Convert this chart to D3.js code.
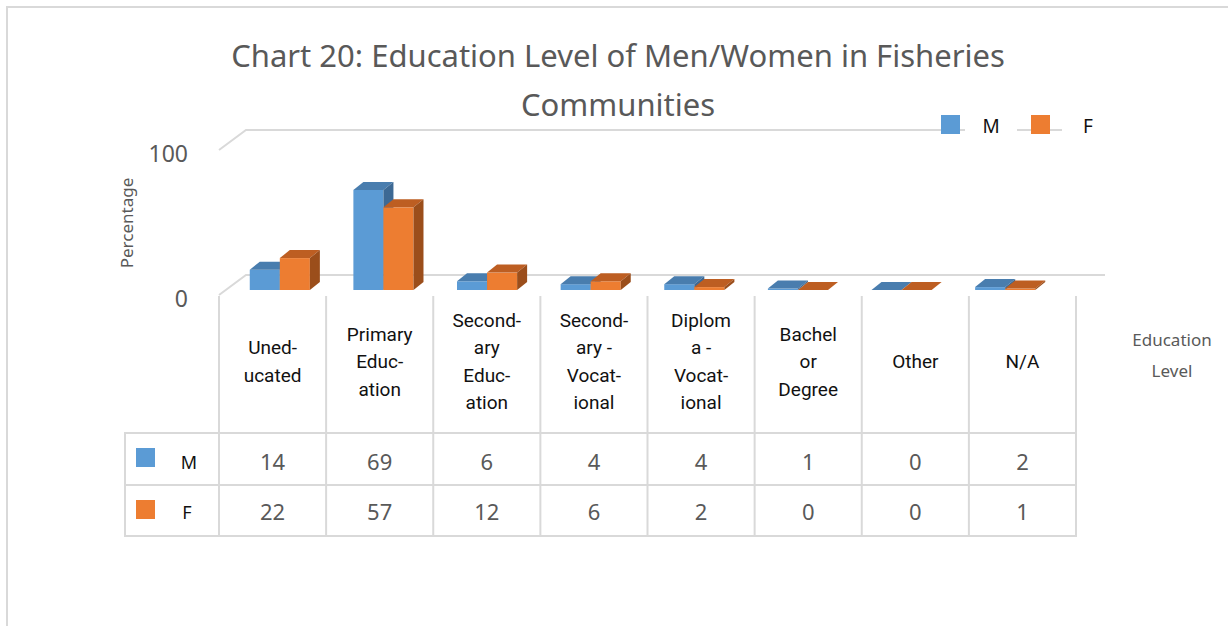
<!DOCTYPE html>
<html>
<head>
<meta charset="utf-8">
<script src="https://cdn.jsdelivr.net/npm/d3@7"></script>
<style>
  body { margin: 0; background: #fff; }
  svg { display: block; }
</style>
</head>
<body>
<div id="chart"></div>
<script>
// data
const categories = ["Uneducated", "Primary Education", "Secondary Education", "Secondary - Vocational",
                    "Diploma - Vocational", "Bachelor Degree", "Other", "N/A"];
const categoryLines = [
  ["Uned-", "ucated"],
  ["Primary", "Educ-", "ation"],
  ["Second-", "ary", "Educ-", "ation"],
  ["Second-", "ary -", "Vocat-", "ional"],
  ["Diplom", "a -", "Vocat-", "ional"],
  ["Bachel", "or", "Degree"],
  ["Other"],
  ["N/A"]
];
const seriesNames = ["M", "F"];
const valuesM = [14, 69, 6, 4, 4, 1, 0, 2];
const valuesF = [22, 57, 12, 6, 2, 0, 0, 1];
const yTicks = [0, 100];

const W = 1228, H = 626;
const GRID = "#D9D9D9";
const TEXT = "#595959";
const FONT = "'Noto Sans', 'Open Sans', sans-serif";
const COLORS = {
  M: { front: "#5B9BD5", top: "#497DAE", side: "#3D6994" },
  F: { front: "#ED7D31", top: "#BD5E22", side: "#9B4E1B" }
};
const DEPTH = { dx: 27, dy: -20 };   // wall depth
const BAR_D = { dx: 10, dy: -8 };    // bar depth

const svg = d3.select("#chart").append("svg")
  .attr("width", W).attr("height", H);

// outer border
svg.append("path")
  .attr("d", `M7,${H} V7 H${W}`)
  .attr("fill", "none").attr("stroke", GRID).attr("stroke-width", 2);

// title
svg.append("text")
  .attr("x", 618).attr("text-anchor", "middle")
  .style("font-family", FONT).style("font-size", "31px").style("fill", TEXT)
  .selectAll("tspan")
  .data(["Chart 20: Education Level of Men/Women in Fisheries", "Communities"])
  .join("tspan")
  .attr("x", 618)
  .attr("y", (d, i) => 67 + i * 49)
  .text(d => d);

// scales
const y = d3.scaleLinear().domain([0, 100]).range([295, 150]);
const yBar = d3.scaleLinear().domain([0, 100]).range([290, 145]);
const xTable = d3.scaleBand().domain(categories).range([219, 1076]);
const xBar = d3.scaleBand().domain(categories).range([228, 1057]).paddingInner(0.42).paddingOuter(0.21);
const xSeries = d3.scaleBand().domain(seriesNames).range([0, xBar.bandwidth()]);

// back wall lines + diagonals
const wall = svg.append("g");
yTicks.forEach(t => {
  wall.append("path")
    .attr("d", `M219,${y(t)} L${219 + DEPTH.dx},${y(t) + DEPTH.dy} H1105`)
    .attr("fill", "none").attr("stroke", GRID).attr("stroke-width", 2);
});

// y axis labels
const yAxis = svg.append("g")
  .attr("transform", "translate(219,4)")
  .call(d3.axisLeft(y).tickValues(yTicks).tickSize(0).tickPadding(31));
yAxis.select(".domain").remove();
yAxis.selectAll("text")
  .style("font-family", FONT).style("font-size", "23px").style("fill", TEXT);

svg.append("text")
  .attr("transform", "translate(133,223) rotate(-90)")
  .attr("text-anchor", "middle")
  .style("font-family", FONT).style("font-size", "17px").style("fill", TEXT)
  .text("Percentage");

// bars
const bars = svg.append("g");
const seriesValues = { M: valuesM, F: valuesF };
categories.forEach((cat, ci) => {
  seriesNames.forEach(s => {
    const v = seriesValues[s][ci];
    const x0 = xBar(cat) + xSeries(s);
    const w = xSeries.bandwidth();
    const yt = yBar(v), yb = yBar(0);
    const c = COLORS[s];
    const g = bars.append("g");
    g.append("rect")
      .attr("x", x0).attr("y", yt)
      .attr("width", w).attr("height", yb - yt)
      .attr("fill", c.front);
    g.append("polygon")
      .attr("points", [[x0, yt], [x0 + BAR_D.dx, yt + BAR_D.dy], [x0 + w + BAR_D.dx, yt + BAR_D.dy], [x0 + w, yt]].join(" "))
      .attr("fill", c.top);
    g.append("polygon")
      .attr("points", [[x0 + w, yt], [x0 + w + BAR_D.dx, yt + BAR_D.dy], [x0 + w + BAR_D.dx, yb + BAR_D.dy], [x0 + w, yb]].join(" "))
      .attr("fill", c.side);
  });
});

// legend (top right)
const legend = svg.append("g");
[["M", 941, 991], ["F", 1031, 1088]].forEach(([s, kx, tx]) => {
  legend.append("rect")
    .attr("x", tx - 26).attr("y", 118).attr("width", s === "M" ? 52 : 60).attr("height", 22)
    .attr("fill", "#fff");
  legend.append("rect")
    .attr("x", kx).attr("y", 115).attr("width", 19).attr("height", 19)
    .attr("fill", COLORS[s].front);
  legend.append("text")
    .attr("x", tx).attr("y", 133).attr("text-anchor", "middle")
    .style("font-family", FONT).style("font-size", "19px").style("fill", "#111")
    .text(s);
});

// data table
const table = svg.append("g");
const colEdges = categories.map(c => xTable(c)).concat([xTable.range()[1]]);
colEdges.forEach(x => {
  table.append("line")
    .attr("x1", x).attr("x2", x).attr("y1", 296).attr("y2", 536)
    .attr("stroke", GRID).attr("stroke-width", 2);
});
table.append("line")
  .attr("x1", 125).attr("x2", 125).attr("y1", 433).attr("y2", 536)
  .attr("stroke", GRID).attr("stroke-width", 2);
[433, 485, 536].forEach(yy => {
  table.append("line")
    .attr("x1", 124).attr("x2", 1077).attr("y1", yy).attr("y2", yy)
    .attr("stroke", GRID).attr("stroke-width", 2);
});

// category labels
categories.forEach((cat, ci) => {
  const lines = categoryLines[ci];
  const cx = xTable(cat) + xTable.bandwidth() / 2;
  const lh = 27.5;
  table.append("text")
    .attr("text-anchor", "middle")
    .style("font-family", "Roboto, sans-serif").style("font-size", "19px").style("fill", "#111")
    .selectAll("tspan")
    .data(lines)
    .join("tspan")
    .attr("x", cx)
    .attr("y", (d, i) => 361 + (i - (lines.length - 1) / 2) * lh + 7)
    .text(d => d);
});

// rows
const rowBase = { M: 470, F: 520 };
const rowKeyY = { M: 448, F: 500 };
seriesNames.forEach(s => {
  table.append("rect")
    .attr("x", 136).attr("y", rowKeyY[s]).attr("width", 19).attr("height", 19)
    .attr("fill", COLORS[s].front);
  table.append("text")
    .attr("x", s === "M" ? 189 : 187).attr("y", rowBase[s] - 1).attr("text-anchor", "middle")
    .style("font-family", FONT).style("font-size", "18px").style("fill", "#111")
    .text(s);
  categories.forEach((cat, ci) => {
    table.append("text")
      .attr("x", xTable(cat) + xTable.bandwidth() / 2).attr("y", rowBase[s])
      .attr("text-anchor", "middle")
      .style("font-family", FONT).style("font-size", "22px").style("fill", TEXT)
      .text(seriesValues[s][ci]);
  });
});

// x axis title
svg.append("text")
  .attr("text-anchor", "middle")
  .style("font-family", FONT).style("font-size", "17px").style("fill", TEXT)
  .selectAll("tspan")
  .data(["Education", "Level"])
  .join("tspan")
  .attr("x", 1172)
  .attr("y", (d, i) => 346 + i * 31)
  .text(d => d);
</script>
</body>
</html>
